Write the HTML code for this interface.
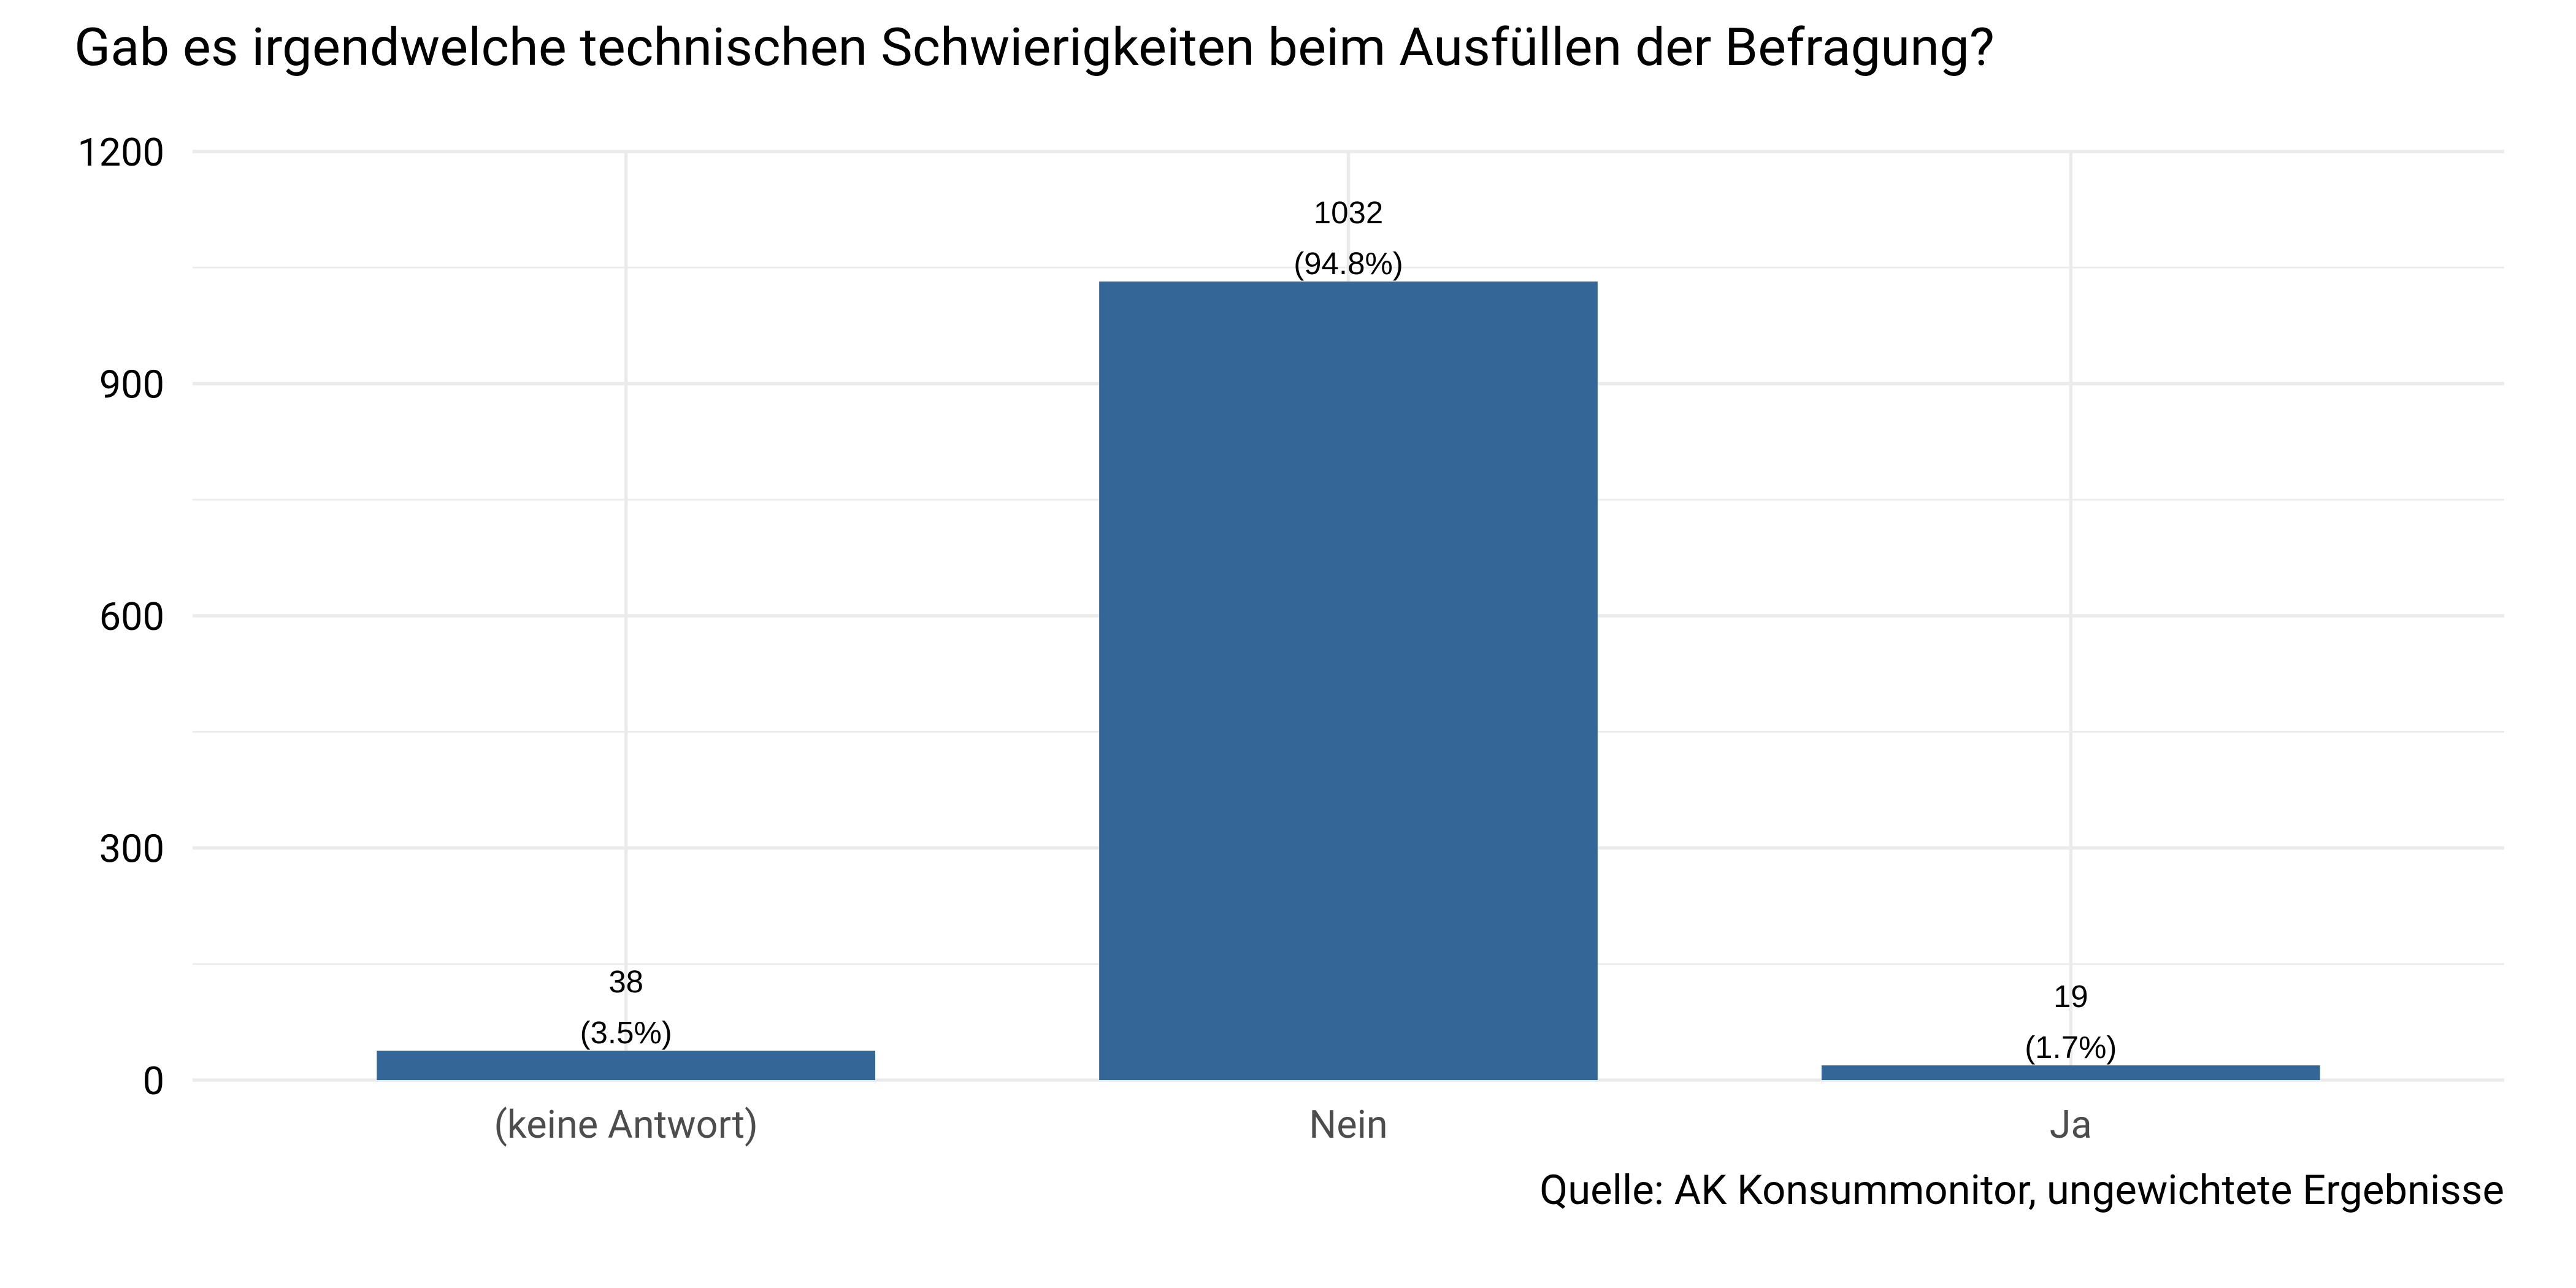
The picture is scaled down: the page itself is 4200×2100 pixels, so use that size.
<!DOCTYPE html>
<html><head><meta charset="utf-8"><style>html,body{margin:0;padding:0;background:#fff}svg{display:block}</style></head>
<body>
<svg width="4200" height="2100" viewBox="0 0 4200 2100" xmlns="http://www.w3.org/2000/svg" font-family="Roboto, 'Liberation Sans', sans-serif">
<text x="121" y="106" font-size="85" fill="#000" textLength="3131" lengthAdjust="spacingAndGlyphs">Gab es irgendwelche technischen Schwierigkeiten beim Ausfüllen der Befragung?</text>
<g id="grid"></g>
<g id="bars"></g>
<g id="yticks"></g>
<g id="xticks"></g>
<text x="4083" y="1963" font-size="67" text-anchor="end" fill="#000">Quelle: AK Konsummonitor, ungewichtete Ergebnisse</text>
</svg>
<script>
const categories = ["(keine Antwort)", "Nein", "Ja"];
const counts = [38, 1032, 19];
const percents = ["(3.5%)", "(94.8%)", "(1.7%)"];
const yTicks = [0, 300, 600, 900, 1200];
const yMinor = [150, 450, 750, 1050];

const NS = "http://www.w3.org/2000/svg";
const plotL = 314, plotR = 4083, y0 = 1761, yTop = 247, yMax = 1200;
function yScale(v){ return y0 - (v / yMax) * (y0 - yTop); }
const unit = (plotR - plotL) / (categories.length + 0.2);
function xCenter(i){ return plotL + unit * (i + 0.6); }
const barW = unit * 0.69;
function mk(tag, attrs, parent){ const e = document.createElementNS(NS, tag); for (const k in attrs) e.setAttribute(k, attrs[k]); parent.appendChild(e); return e; }

const grid = document.getElementById('grid');
yMinor.forEach(v => {
  const l = mk('line', {x1: plotL, x2: plotR, y1: yScale(v), y2: yScale(v), stroke: '#ebebeb', 'stroke-width': 2.7}, grid);
  
  
});
yTicks.forEach(v => {
  const l = mk('line', {x1: plotL, x2: plotR, y1: yScale(v), y2: yScale(v), stroke: '#ebebeb', 'stroke-width': 5.4}, grid);
  
  
});
categories.forEach((c, i) => {
  const l = mk('line', {x1: xCenter(i), x2: xCenter(i), y1: yTop, y2: y0, stroke: '#ebebeb', 'stroke-width': 5.4}, grid);
  
  
});

const bars = document.getElementById('bars');
categories.forEach((c, i) => {
  const top = yScale(counts[i]);
  const r = mk('rect', {x: xCenter(i) - barW / 2, y: top, width: barW, height: y0 - top, fill: '#346798'}, bars);
  
  
  const t1 = mk('text', {x: xCenter(i), y: top - 95, 'font-size': 51, 'text-anchor': 'middle', fill: '#000', 'font-family': "'Liberation Sans', sans-serif"}, bars);
  t1.textContent = counts[i];
  
  
  const t2 = mk('text', {x: xCenter(i), y: top - 12, 'font-size': 51, 'text-anchor': 'middle', fill: '#000', 'font-family': "'Liberation Sans', sans-serif"}, bars);
  t2.textContent = percents[i];
  
  
});

const yt = document.getElementById('yticks');
yTicks.forEach(v => {
  const t = mk('text', {x: 268, y: yScale(v) + 23, 'font-size': 63, 'text-anchor': 'end', fill: '#000'}, yt);
  t.textContent = v;
  
  
});
const xt = document.getElementById('xticks');
categories.forEach((c, i) => {
  const t = mk('text', {x: xCenter(i), y: 1855, 'font-size': 63, 'text-anchor': 'middle', fill: '#4d4d4d'}, xt);
  t.textContent = c;
  
  
});
</script>
</body></html>
